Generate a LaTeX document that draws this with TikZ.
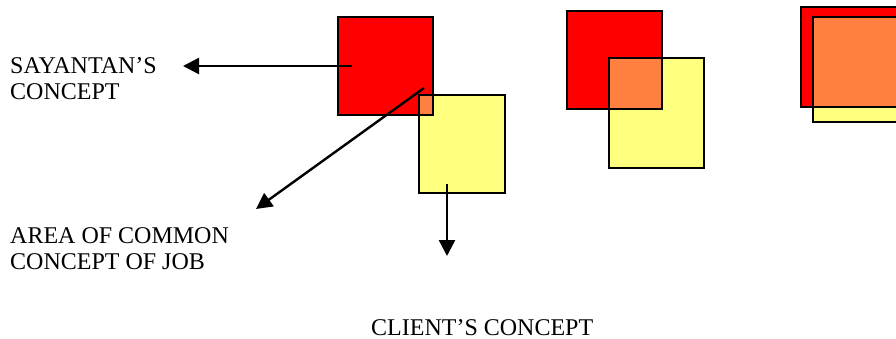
\documentclass[tikz,border=0pt]{standalone}
\usepackage{fontspec}
\setmainfont{Liberation Serif}
\usetikzlibrary{arrows.meta}
\definecolor{sqred}{RGB}{255,0,0}
\definecolor{sqyellow}{RGB}{255,255,128}
\definecolor{sqorange}{RGB}{255,128,64}
\begin{document}
\begin{tikzpicture}[x=1pt,y=-1pt,
  sqedge/.style={draw=black,line width=1.8pt},
  pointer/.style={draw=black,line width=2.4pt,-{Triangle[length=16pt,width=16pt]}},
  label/.style={inner sep=0pt,align=left,font=\fontsize{24}{26}\selectfont}]
\useasboundingbox (0,0) rectangle (896,339);
% group 1
\fill[sqred] (338,17) rectangle (433,115);
\fill[sqyellow] (419,95) rectangle (505,193);
\fill[sqorange] (419,95) rectangle (433,115);
\draw[sqedge] (338,17) rectangle (433,115);
\draw[sqedge] (419,95) rectangle (505,193);
% group 2
\fill[sqred] (567,11) rectangle (662,109);
\fill[sqyellow] (609,58) rectangle (704,168);
\fill[sqorange] (609,58) rectangle (662,109);
\draw[sqedge] (567,11) rectangle (662,109);
\draw[sqedge] (609,58) rectangle (704,168);
% group 3 (clipped at right edge)
\begin{scope}
\clip (0,0) rectangle (896,339);
\fill[sqred] (801,7) rectangle (910,107);
\fill[sqyellow] (813,17) rectangle (910,122);
\fill[sqorange] (813,17) rectangle (910,107);
\draw[sqedge] (801,7) rectangle (910,107);
\draw[sqedge] (813,17) rectangle (910,122);
\end{scope}
% labels
\node[label,anchor=base west] (say) at (10,99.3) {SAYANTAN’S\\CONCEPT};
\node[label,anchor=base west] (area) at (10,269.3) {AREA OF COMMON\\CONCEPT OF JOB};
\node[label,anchor=base west] (client) at (371,335) {CLIENT’S CONCEPT};
% pointers
\coordinate (p1s) at (352,66);
\coordinate (p1e) at (183,66);
\coordinate (p2s) at (424,88);
\coordinate (p2e) at (256,209);
\coordinate (p3s) at (447,184);
\coordinate (p3e) at (447,256);
\draw[pointer] (p1s) -- (p1e);
\draw[pointer] (p2s) -- (p2e);
\draw[pointer] (p3s) -- (p3e);
\end{tikzpicture}
\end{document}
